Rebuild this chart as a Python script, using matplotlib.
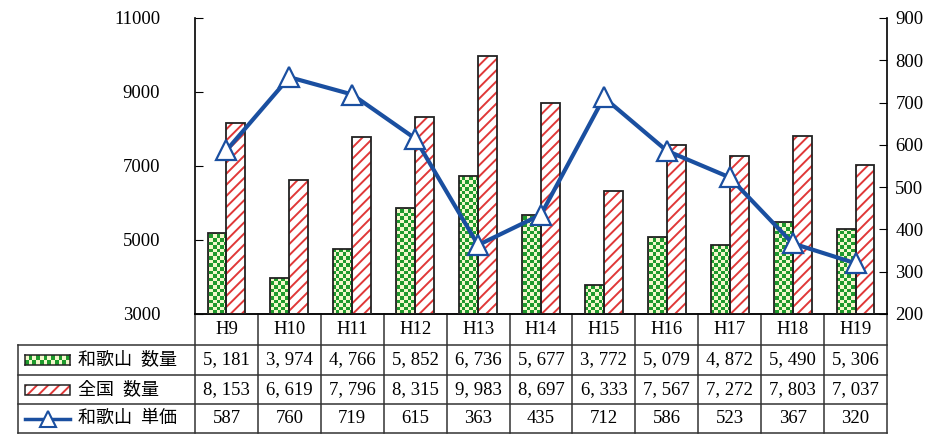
import numpy as np
import matplotlib
matplotlib.use("Agg")
import matplotlib.pyplot as plt
from matplotlib.patches import Rectangle, PathPatch
from matplotlib.path import Path
from matplotlib.lines import Line2D
import matplotlib.transforms as mtransforms
from matplotlib.colors import ListedColormap

plt.rcParams['font.family'] = ['Liberation Serif', 'Noto Sans CJK JP']
plt.rcParams['hatch.linewidth'] = 1.4

years = ["H9", "H10", "H11", "H12", "H13", "H14", "H15", "H16", "H17", "H18", "H19"]
wakayama_qty = [5181, 3974, 4766, 5852, 6736, 5677, 3772, 5079, 4872, 5490, 5306]
national_qty = [8153, 6619, 7796, 8315, 9983, 8697, 6333, 7567, 7272, 7803, 7037]
wakayama_price = [587, 760, 719, 615, 363, 435, 712, 586, 523, 367, 320]
row_labels = ["和歌山  数量", "全国  数量", "和歌山  単価"]

GREEN = '#1e9a2c'
PALE = '#f4f8cc'
RED = '#e03838'
BLUE = '#1a4fa0'
checker_cmap = ListedColormap([PALE, GREEN])

def fmt(v):
    s = f"{v:,}"
    return s.replace(",", ", ")

def checker_img(wpx, hpx, cell_px=3.6):
    nx, ny = max(int(wpx / cell_px), 1), max(int(hpx / cell_px), 1)
    return (np.add.outer(np.arange(ny), np.arange(nx)) % 2).astype(float)

fig = plt.figure(figsize=(9.5, 4.34), dpi=100)
ax = fig.add_axes([195/950, 1-314/434, (887-195)/950, 296/434])
x = np.arange(len(years))
w = 0.3
base = 3000
ax.set_xlim(-0.5, len(years) - 0.5)
ax.set_ylim(3000, 11000)

# green checkered bars: checkerboard image clipped to the bar outlines
gbars = ax.bar(x - w/2, np.array(wakayama_qty) - base, w, bottom=base, fill=False,
               edgecolor='#222222', linewidth=1.3, zorder=3)
paths = [b.get_path().transformed(b.get_patch_transform()) for b in gbars]
clip = PathPatch(Path.make_compound_path(*paths), transform=ax.transData,
                 facecolor='none', edgecolor='none')
ax.add_patch(clip)
im = ax.imshow(checker_img(692, 296), cmap=checker_cmap, extent=(-0.5, len(years) - 0.5, 3000, 11000),
               origin='lower', interpolation='nearest', aspect='auto', zorder=2)
im.set_clip_path(clip)
ax.set_xlim(-0.5, len(years) - 0.5)
ax.set_ylim(3000, 11000)

# red hatched bars
ax.bar(x + w/2, np.array(national_qty) - base, w, bottom=base, color='white',
       edgecolor=RED, hatch='///', linewidth=0, zorder=2)
ax.bar(x + w/2, np.array(national_qty) - base, w, bottom=base, fill=False,
       edgecolor='#222222', linewidth=1.3, zorder=3)

ax.set_yticks([3000, 5000, 7000, 9000, 11000])
ax.tick_params(axis='y', direction='in', length=6, labelsize=13.5, pad=25)
ax.set_xticks([])
ax.spines['top'].set_visible(False)
ax.spines['bottom'].set_linewidth(1.2)
ax.spines['left'].set_linewidth(1.2)
ax.spines['right'].set_visible(False)

ax2 = ax.twinx()
ax2.plot(x, wakayama_price, color=BLUE, linewidth=3, marker='^', markersize=15,
         markerfacecolor='white', markeredgecolor=BLUE, markeredgewidth=1.6, zorder=5)
ax2.set_ylim(200, 900)
ax2.set_yticks(range(200, 901, 100))
ax2.tick_params(axis='y', direction='in', length=6, labelsize=13.5, pad=6)
ax2.spines['top'].set_visible(False)
ax2.spines['left'].set_visible(False)
ax2.spines['bottom'].set_visible(False)
ax2.spines['right'].set_linewidth(1.2)

# data table below the axes
trans = mtransforms.blended_transform_factory(ax.transData, ax.transAxes)
ah = 296.0
rows_y = [0, -31/ah, -61/ah, -90/ah, -119/ah]
unit = (887 - 195) / len(years)
left = -0.5 - (195 - 18) / unit
right = len(years) - 0.5
lk = dict(color='#333333', linewidth=1.1, transform=trans, clip_on=False)
ax.plot([-0.5, right], [0, 0], **lk)
for yy in rows_y[1:]:
    ax.plot([left, right], [yy, yy], **lk)
for b in np.arange(-0.5, len(years), 1.0):
    ax.plot([b, b], [0, rows_y[-1]], **lk)
ax.plot([left, left], [rows_y[1], rows_y[-1]], **lk)

tk = dict(transform=trans, ha='center', va='center', fontsize=13.5, clip_on=False)
for i, yr in enumerate(years):
    ax.text(i, (rows_y[0] + rows_y[1]) / 2, yr, **tk)
    ax.text(i, (rows_y[1] + rows_y[2]) / 2, fmt(wakayama_qty[i]), **tk)
    ax.text(i, (rows_y[2] + rows_y[3]) / 2, fmt(national_qty[i]), **tk)
    ax.text(i, (rows_y[3] + rows_y[4]) / 2, str(wakayama_price[i]), **tk)

# row labels with legend keys
kx0 = left + 7 / unit
kx1 = left + 52 / unit
tx = left + 60 / unit
for r, lab in enumerate(row_labels):
    yc = (rows_y[r + 1] + rows_y[r + 2]) / 2
    ax.text(tx, yc, lab, transform=trans, ha='left', va='center', fontsize=13,
            clip_on=False)

# green key: small axes with checkerboard
kh_px = 10
y1_px = 314 + 31 + 15
kax = fig.add_axes([25/950, 1 - (y1_px + kh_px/2)/434, 45/950, kh_px/434])
kax.imshow(checker_img(45, kh_px), cmap=checker_cmap, interpolation='nearest', aspect='auto')
kax.set_xticks([])
kax.set_yticks([])
for s in kax.spines.values():
    s.set_linewidth(1.1)
    s.set_color('#222222')

kh = kh_px / ah
y2 = (rows_y[2] + rows_y[3]) / 2
ax.add_patch(Rectangle((kx0, y2 - kh/2), kx1 - kx0, kh, transform=trans, clip_on=False,
                       facecolor='white', edgecolor=RED, hatch='///', linewidth=0))
ax.add_patch(Rectangle((kx0, y2 - kh/2), kx1 - kx0, kh, transform=trans, clip_on=False,
                       fill=False, edgecolor='#222222', linewidth=1.1))
y3 = (rows_y[3] + rows_y[4]) / 2
ax.add_line(Line2D([kx0, kx1], [y3, y3], transform=trans, clip_on=False, color=BLUE,
                   linewidth=2.5))
ax.add_line(Line2D([(kx0 + kx1) / 2], [y3], transform=trans, clip_on=False, color=BLUE,
                   marker='^', markersize=12, markerfacecolor='white',
                   markeredgecolor=BLUE, markeredgewidth=1.5))

fig.savefig("out.png", dpi=100)
